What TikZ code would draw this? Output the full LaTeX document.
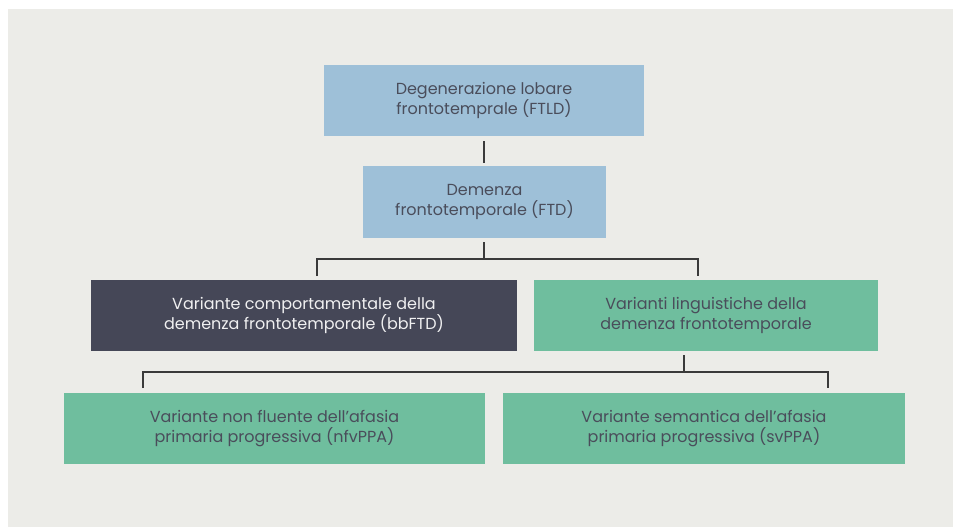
\documentclass[tikz,border=0pt]{standalone}
\usepackage{fontspec}
\setmainfont{Poppins}
\usetikzlibrary{calc}
\definecolor{bgc}{HTML}{ECECE8}
\definecolor{bluec}{HTML}{9EC0D8}
\definecolor{darkc}{HTML}{454757}
\definecolor{greenc}{HTML}{6FBE9E}
\definecolor{txtc}{HTML}{4A4D5B}
\definecolor{linec}{HTML}{3A3A3A}
\begin{document}
\begin{tikzpicture}[x=1pt,y=-1pt,
  box/.style={rectangle, inner sep=0pt, align=center, text=txtc,
    font=\fontsize{16}{20}\selectfont},
  conn/.style={draw=linec, line width=1.3pt}]
\useasboundingbox (0,0) rectangle (953,527);
\fill[bgc] (8,9) rectangle (953,527);
\node[box, fill=bluec, minimum width=320pt, minimum height=71pt] (ftld) at (484,100.5)
  {Degenerazione lobare\\frontotemprale (FTLD)};
\node[box, fill=bluec, minimum width=243pt, minimum height=72pt] (ftd) at (484.5,202)
  {Demenza\\frontotemporale (FTD)};
\node[box, fill=darkc, text=white!92!darkc, minimum width=426pt, minimum height=71pt] (bv) at (304,315.5)
  {Variante comportamentale della\\demenza frontotemporale (bbFTD)};
\node[box, fill=greenc, minimum width=344pt, minimum height=71pt] (ling) at (706,315.5)
  {Varianti linguistiche della\\demenza frontotemporale};
\node[box, fill=greenc, minimum width=421pt, minimum height=71pt] (nfv) at (274.5,428.5)
  {Variante non fluente dell’afasia\\primaria progressiva (nfvPPA)};
\node[box, fill=greenc, minimum width=402pt, minimum height=71pt] (sv) at (704,428.5)
  {Variante semantica dell’afasia\\primaria progressiva (svPPA)};
% connectors
\draw[conn] ($(ftld.south)+(0,5)$) -- ($(ftld.south)+(0,27)$);
\coordinate (barA) at (0,259);
\coordinate (dA1) at (317,276);
\coordinate (dA2) at (698,276);
\coordinate (sA) at (484,242);
\draw[conn] (sA) -- (sA |- barA);
\draw[conn] (dA1) -- (dA1 |- barA) -- (dA2 |- barA) -- (dA2);
\coordinate (barB) at (0,372);
\coordinate (dB1) at (143,388);
\coordinate (dB2) at (828,388);
\coordinate (sB) at (684,355);
\draw[conn] (sB) -- (sB |- barB);
\draw[conn] (dB1) -- (dB1 |- barB) -- (dB2 |- barB) -- (dB2);
\end{tikzpicture}
\end{document}
